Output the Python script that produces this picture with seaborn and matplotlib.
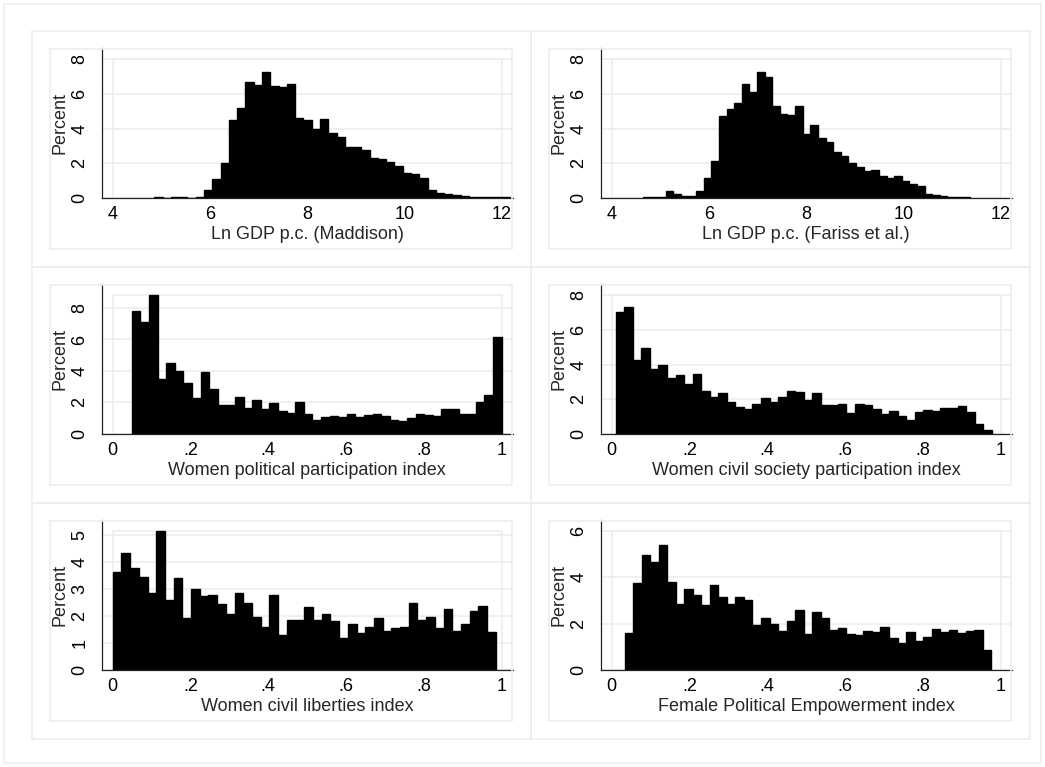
import numpy as np
import pandas as pd
import seaborn as sns
import matplotlib.pyplot as plt
from matplotlib.patches import Rectangle

# ---- values read off the reference: percent of observations per bin ----
# (low edge, high edge) of the binned range, then bar heights in percent

gdp_maddison_range = (4.856, 12.179)
gdp_maddison_pct = [0.03, 0.0, 0.03, 0.03, 0.0, 0.02,
                    0.45, 1.08, 2.0, 4.5, 5.2, 6.67, 6.5, 7.25, 6.43, 6.38, 6.57,
                    4.63, 4.52, 3.97, 4.57, 3.76, 3.53, 2.91, 2.95, 2.77, 2.31,
                    2.25, 2.07, 1.84, 1.43, 1.38, 1.16,
                    0.45, 0.27, 0.21, 0.14, 0.1, 0.06, 0.05, 0.04, 0.03, 0.03]

gdp_fariss_range = (4.638, 11.376)
gdp_fariss_pct = [0.02, 0.03, 0.03, 0.4, 0.2, 0.1, 0.1, 0.4,
                  1.15, 2.1, 4.7, 5.15, 5.45, 6.6, 6.1, 7.25, 6.95, 5.3, 4.85,
                  4.8, 5.3, 3.7, 4.2, 3.45, 3.25, 2.65, 2.4, 2.0, 1.8, 1.55, 1.6,
                  1.25, 1.15, 1.25, 0.95, 0.8, 0.7,
                  0.2, 0.15, 0.1, 0.05, 0.04, 0.03]

pol_part_range = (0.049, 1.0)
pol_part_pct = [7.79, 7.14, 8.81, 3.47, 4.49, 4.0, 3.21, 2.27, 3.94, 2.82,
                1.82, 1.82, 2.33, 1.63, 2.12, 1.56, 1.99, 1.43, 1.35, 2.05,
                1.28, 0.86, 1.05, 1.11, 1.05, 1.28, 1.05, 1.22, 1.28, 1.11,
                0.86, 0.79, 0.98, 1.28, 1.18, 1.11, 1.56, 1.56, 1.28, 1.28,
                2.05, 2.44, 6.16]

civ_soc_range = (0.0103, 0.977)
civ_soc_pct = [7.06, 7.34, 4.27, 4.95, 3.73, 3.96, 3.2, 3.38, 2.85, 3.44,
               2.45, 2.1, 2.33, 1.81, 1.57, 1.46, 1.75, 2.04, 1.81, 2.1,
               2.5, 2.4, 1.94, 2.37, 1.69, 1.69, 1.75, 1.22, 1.75, 1.67,
               1.46, 1.15, 1.34, 1.05, 0.8, 1.28, 1.40, 1.34, 1.51, 1.51,
               1.63, 1.28, 0.56, 0.23]

civ_lib_range = (0.0, 0.985)
civ_lib_pct = [3.62, 4.33, 3.80, 3.44, 2.84, 5.15, 2.58, 3.4, 1.91, 2.99,
               2.73, 2.77, 2.43, 2.06, 2.84, 2.47, 1.95, 1.61, 2.77, 1.28,
               1.87, 1.87, 2.32, 1.84, 2.06, 1.80, 1.2, 1.69, 1.35, 1.61,
               1.91, 1.43, 1.57, 1.61, 2.47, 1.87, 1.95, 1.57, 2.25, 1.43,
               1.72, 2.17, 2.36, 1.39]

fem_emp_range = (0.033, 0.976)
fem_emp_pct = [1.58, 3.75, 4.97, 4.67, 5.41, 3.8, 2.84, 3.49, 3.23, 2.8,
               3.67, 3.14, 2.84, 3.14, 3.01, 1.93, 2.23, 1.97, 1.67, 2.1,
               2.58, 1.54, 2.49, 2.23, 1.71, 1.8, 1.54, 1.49, 1.67, 1.62,
               1.84, 1.36, 1.14, 1.62, 1.23, 1.41, 1.75, 1.62, 1.71, 1.58,
               1.67, 1.71, 0.84]

gdp_xticks = [4, 6, 8, 10, 12]
gdp_xlabels = ["4", "6", "8", "10", "12"]
idx_xticks = [0, 0.2, 0.4, 0.6, 0.8, 1]
idx_xlabels = ["0", ".2", ".4", ".6", ".8", "1"]

panels = [
    ("Ln GDP p.c. (Maddison)", gdp_maddison_range, gdp_maddison_pct, gdp_xticks, gdp_xlabels, [0, 2, 4, 6, 8]),
    ("Ln GDP p.c. (Fariss et al.)", gdp_fariss_range, gdp_fariss_pct, gdp_xticks, gdp_xlabels, [0, 2, 4, 6, 8]),
    ("Women political participation index", pol_part_range, pol_part_pct, idx_xticks, idx_xlabels, [0, 2, 4, 6, 8]),
    ("Women civil society participation index", civ_soc_range, civ_soc_pct, idx_xticks, idx_xlabels, [0, 2, 4, 6, 8]),
    ("Women civil liberties index", civ_lib_range, civ_lib_pct, idx_xticks, idx_xlabels, [0, 1, 2, 3, 4, 5]),
    ("Female Political Empowerment index", fem_emp_range, fem_emp_pct, idx_xticks, idx_xlabels, [0, 2, 4, 6]),
]

sns.set_theme(style="white")
plt.rcParams['font.family'] = ['Liberation Sans', 'DejaVu Sans']

W, H = 1045, 767
LIGHT = "#e8eff2"
fig = plt.figure(figsize=(W / 100, H / 100), dpi=100)
fig.patch.set_facecolor("white")


def frame(x0, y0, x1, y1):
    # rectangle given in pixel coords measured from the top-left corner
    fig.add_artist(Rectangle((x0 / W, 1 - y1 / H), (x1 - x0) / W, (y1 - y0) / H,
                             transform=fig.transFigure, fill=False,
                             edgecolor=LIGHT, linewidth=1.2))


frame(4, 4, 1041, 763)

col_x = [32, 531]
row_y = [31, 267, 503]
cell_w, cell_h = 499, 236
ax_w, ax_h = 411, 149.5
margin = 11

for i, (label, rng, pct, xt, xl, yt) in enumerate(panels):
    r, c = divmod(i, 2)
    cx, cy = col_x[c], row_y[r]
    frame(cx, cy, cx + cell_w, cy + cell_h)
    frame(cx + 18, cy + 18, cx + cell_w - 19, cy + cell_h - 18)

    left = cx + 69.7
    top = cy + 17.3
    ax = fig.add_axes([left / W, 1 - (top + ax_h) / H, ax_w / W, ax_h / H])

    edges = np.linspace(rng[0], rng[1], len(pct) + 1)
    df = pd.DataFrame({"value": (edges[:-1] + edges[1:]) / 2, "pct": pct})
    sns.histplot(data=df, x="value", weights="pct", bins=list(edges), ax=ax,
                 color="black", edgecolor="black", linewidth=1.0, alpha=1)

    # plot region box: tick range plus data, then a fixed pixel margin
    bx0, bx1 = xt[0], xt[-1]
    by1 = max(yt[-1], max(pct))
    dx = margin * (bx1 - bx0) / (ax_w - 2 * margin)
    ax.set_xlim(bx0 - dx, bx1 + dx)
    ax.set_ylim(0, by1 + margin * by1 / (ax_h - margin))
    ax.add_patch(Rectangle((bx0, 0), bx1 - bx0, by1, fill=False,
                           edgecolor=LIGHT, linewidth=1.2, zorder=0.6))

    ax.set_axisbelow(True)
    ax.yaxis.grid(True, color=LIGHT, linewidth=1.2)
    ax.xaxis.grid(False)
    for s in ["top", "right"]:
        ax.spines[s].set_visible(False)
    for s in ["left", "bottom"]:
        ax.spines[s].set_color("#222222")
        ax.spines[s].set_linewidth(0.9)

    ax.set_xticks(xt)
    ax.set_xticklabels(xl)
    ax.set_yticks(yt)
    ax.set_yticklabels([str(v) for v in yt], rotation=90, va="center")
    ax.tick_params(axis="both", direction="out", length=4.5, width=0.9,
                   color="#444444", labelsize=13, labelcolor="black")
    ax.tick_params(axis="x", pad=1.5)
    ax.tick_params(axis="y", pad=5)
    ax.set_xlabel(label, fontsize=13, labelpad=2)
    ax.set_ylabel("Percent", fontsize=13, labelpad=2)

fig.savefig("out.png", dpi=100, facecolor="white")
